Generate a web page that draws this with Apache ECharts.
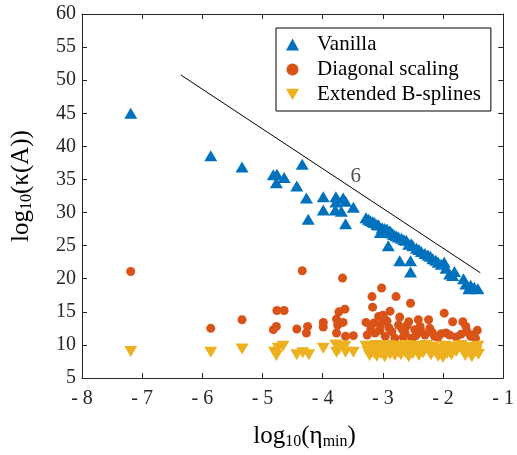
<!DOCTYPE html>
<html>
<head>
<meta charset="utf-8">
<script src="https://cdn.jsdelivr.net/npm/echarts@6/dist/echarts.min.js"></script>
<style>
  html, body { margin: 0; padding: 0; background: #fff; }
  #chart { width: 517px; height: 455px; }
</style>
</head>
<body>
<div id="chart"></div>
<script>
// Vanilla (blue triangles)
var vanillaX = [-7.19, -5.86, -5.34, -4.82, -4.76, -4.77, -4.64, -4.43, -4.34, -4.27, -4.24,
  -3.99, -3.99, -3.78, -3.78, -3.79, -3.69, -3.66, -3.62, -3.62, -3.49,
  -3.28, -3.24, -3.21, -3.17, -3.14, -3.10, -3.07, -3.04, -3.01, -2.97, -2.93, -2.88, -2.85,
  -2.82, -2.78, -2.74, -2.69, -2.65, -2.61, -2.57, -2.53, -2.50, -2.44, -2.40, -2.36, -2.30,
  -2.25, -2.21, -2.17, -2.12, -2.08, -2.03, -1.98, -1.95, -1.89, -1.84, -1.81, -1.66, -1.62,
  -1.57, -1.54, -1.48, -1.42, -2.91, -2.72, -2.54, -2.54];
var vanillaY = [45.0, 38.6, 36.9, 35.7, 35.8, 34.5, 35.3, 34.0, 37.3, 32.2, 29.0,
  32.4, 30.4, 32.4, 31.6, 30.4, 30.2, 32.2, 31.7, 28.3, 30.8,
  29.2, 29.0, 28.8, 28.6, 28.5, 28.2, 28.1, 27.0, 27.7, 27.6, 27.5, 27.2, 26.9,
  26.7, 26.5, 26.3, 26.1, 25.9, 25.8, 25.2, 25.3, 25.0, 24.6, 24.4, 24.1, 23.8,
  23.6, 23.4, 23.0, 22.8, 22.5, 22.2, 22.5, 21.6, 20.7, 20.5, 21.1, 20.0, 19.2,
  18.5, 19.0, 18.7, 18.5, 25.0, 22.7, 22.7, 21.0];

// Diagonal scaling (orange circles)
var diagX = [-7.19, -5.86, -5.34, -4.76, -4.64, -4.82, -4.77, -4.43, -4.34, -4.25, -4.27,
  -3.99, -3.99, -3.67, -3.73, -3.63, -3.77, -3.75, -3.66, -3.77, -3.62, -3.49,
  -3.18, -3.02, -2.78, -2.54, -3.17, -3.28, -3.15, -3.07, -3.00, -2.88, -2.93, -3.04,
  -2.72, -2.74, -2.57, -2.41, -2.24, -1.98, -1.84, -1.67, -1.62, -1.43,
  -3.26, -3.13, -2.85, -2.63, -2.47, -2.30, -2.14, -2.03, -1.89, -1.78, -1.54, -1.46,
  -2.96, -2.52, -2.80, -2.22, -2.36, -1.60, -1.51, -3.05, -2.98, -2.90, -2.68, -2.60,
  -2.45, -2.38, -2.18, -2.08, -1.95, -1.70, -3.20, -2.66];
var diagY = [21.1, 12.5, 13.8, 15.2, 15.2, 12.3, 12.8, 12.4, 21.2, 12.8, 11.8,
  13.4, 12.7, 20.1, 15.0, 15.4, 13.9, 13.0, 13.4, 11.8, 11.3, 11.4,
  17.3, 18.6, 17.3, 16.3, 15.7, 13.4, 13.3, 14.3, 14.5, 15.1, 13.6, 13.0,
  14.2, 13.0, 13.5, 13.8, 13.8, 14.8, 13.5, 13.5, 12.8, 12.2,
  11.5, 11.8, 12.0, 11.8, 12.3, 11.5, 11.3, 11.7, 11.5, 11.2, 11.3, 11.0,
  11.3, 11.0, 11.0, 12.5, 12.0, 12.0, 11.5, 12.2, 14.0, 12.6, 12.4, 12.9,
  11.4, 12.8, 11.9, 11.2, 11.8, 11.6, 12.4, 11.2];

// Extended B-splines (yellow down triangles)
var bsplX = [-7.19, -5.86, -5.34, -4.80, -4.74, -4.66, -4.77, -4.43, -4.33, -4.23, -3.99,
  -3.78, -3.73, -3.77, -3.62, -3.63, -3.49,
  -3.28, -3.25, -3.22, -3.18, -3.15, -3.12, -3.10, -3.06, -3.03, -3.00, -2.97, -2.94, -2.90,
  -2.88, -2.85, -2.80, -2.77, -2.74, -2.70, -2.67, -2.63, -2.60, -2.57, -2.53, -2.50, -2.46,
  -2.43, -2.40, -2.36, -2.33, -2.28, -2.24, -2.20, -2.16, -2.12, -2.08, -2.05, -2.00, -1.97,
  -1.93, -1.90, -1.86, -1.82, -1.78, -1.70, -1.66, -1.63, -1.59, -1.55, -1.52, -1.49, -1.45,
  -1.42, -1.41];
var bsplY = [9.0, 8.9, 9.4, 8.9, 9.5, 9.8, 8.4, 8.5, 8.8, 8.5, 9.5,
  10.0, 9.3, 8.9, 8.9, 9.8, 8.9,
  9.8, 9.0, 8.4, 9.6, 8.8, 9.9, 8.3, 9.4, 8.7, 9.8, 8.2, 9.2, 9.9,
  8.6, 9.5, 8.4, 9.8, 9.0, 8.5, 9.7, 8.9, 9.9, 8.2, 9.4, 8.7, 9.8,
  9.1, 8.4, 9.6, 8.8, 9.9, 9.2, 8.5, 9.7, 8.9, 8.3, 9.4, 8.1, 9.8,
  8.7, 9.3, 8.5, 9.7, 9.0, 9.9, 9.2, 8.4, 9.6, 8.8, 8.2, 9.5, 9.0,
  9.8, 8.6];

// slope-6 reference line and its label
var slopeX = [-6.36, -1.38];
var slopeY = [50.8, 20.9];
var slopeLabelPos = [-3.45, 35.4];
var slopeLabel = '6';

function pairs(xs, ys) {
  var out = [];
  for (var i = 0; i < xs.length; i++) out.push([xs[i], ys[i]]);
  return out;
}

var FONT = 'Liberation Serif';
var AXC = '#262626';
var downTri = 'path://M0,0 L10,0 L5,8.66 Z';

var myChart = echarts.init(document.getElementById('chart'));
var axisCommon = {
  axisLine: {show: true, lineStyle: {color: AXC, width: 1}},
  axisTick: {show: true, inside: true, length: 5, lineStyle: {color: AXC}},
  splitLine: {show: false}
};
var nameRich = {
  b: {fontFamily: FONT, fontSize: 25, color: '#000', lineHeight: 28},
  s: {fontFamily: FONT, fontSize: 16, color: '#000', verticalAlign: 'bottom', lineHeight: 28, padding: [11, 0, 0, 0]}
};
var option = {
  animation: false,
  backgroundColor: '#fff',
  grid: {left: 80, top: 14, width: 426, height: 368},
  legend: {
    data: [
      {name: 'Vanilla', icon: 'triangle'},
      {name: 'Diagonal scaling', icon: 'circle'},
      {name: 'Extended B-splines', icon: downTri}
    ],
    orient: 'vertical',
    left: 276, top: 28,
    padding: [6, 10, 6, 10],
    itemGap: 4,
    itemWidth: 13, itemHeight: 12,
    borderColor: '#000', borderWidth: 1,
    backgroundColor: '#fff',
    textStyle: {fontFamily: FONT, fontSize: 21, color: '#000', padding: [0, 0, 0, 13]}
  },
  xAxis: [Object.assign({}, axisCommon, {
    type: 'value', min: -8, max: -1, interval: 1, position: 'bottom',
    axisLabel: {fontFamily: FONT, fontSize: 20, color: AXC, margin: 11,
      formatter: function (v) { return v < 0 ? '- ' + Math.abs(v) : String(v); }},
    name: '{b|log}{s|10}{b|(η}{s|min}{b|)}',
    nameLocation: 'middle', nameGap: 44,
    nameTextStyle: {rich: nameRich, padding: [0, 0, 0, 24]}
  }), Object.assign({}, axisCommon, {
    type: 'value', min: -8, max: -1, interval: 1, position: 'top',
    axisLabel: {show: false}
  })],
  yAxis: [Object.assign({}, axisCommon, {
    type: 'value', min: 5, max: 60, interval: 5, position: 'left',
    axisLabel: {fontFamily: FONT, fontSize: 20, color: AXC, margin: 6},
    name: '{b|log}{s|10}{b|(κ(A))}',
    nameLocation: 'middle', nameGap: 47,
    nameTextStyle: {rich: nameRich, padding: [0, 0, 0, 20]}
  }), Object.assign({}, axisCommon, {
    type: 'value', min: 5, max: 60, interval: 5, position: 'right',
    axisLabel: {show: false}
  })],
  series: [
    {
      name: 'slope', type: 'line', data: pairs(slopeX, slopeY),
      symbol: 'none', lineStyle: {color: '#000', width: 1}, z: 1, silent: true
    },
    {
      name: 'slopeLabel', type: 'scatter', data: [slopeLabelPos], symbolSize: 0,
      label: {show: true, position: 'inside', formatter: slopeLabel,
        fontFamily: FONT, fontSize: 21, color: '#262626'}, silent: true
    },
    {
      name: 'Vanilla', type: 'scatter', data: pairs(vanillaX, vanillaY),
      symbol: 'triangle', symbolSize: [13, 11],
      itemStyle: {color: '#0072BD', opacity: 1}
    },
    {
      name: 'Diagonal scaling', type: 'scatter', data: pairs(diagX, diagY),
      symbol: 'circle', symbolSize: 9,
      itemStyle: {color: '#D95319', opacity: 1}
    },
    {
      name: 'Extended B-splines', type: 'scatter', data: pairs(bsplX, bsplY),
      symbol: downTri, symbolSize: [13, 11],
      itemStyle: {color: '#EDB120', opacity: 1}
    }
  ]
};
myChart.setOption(option);
</script>
</body>
</html>
